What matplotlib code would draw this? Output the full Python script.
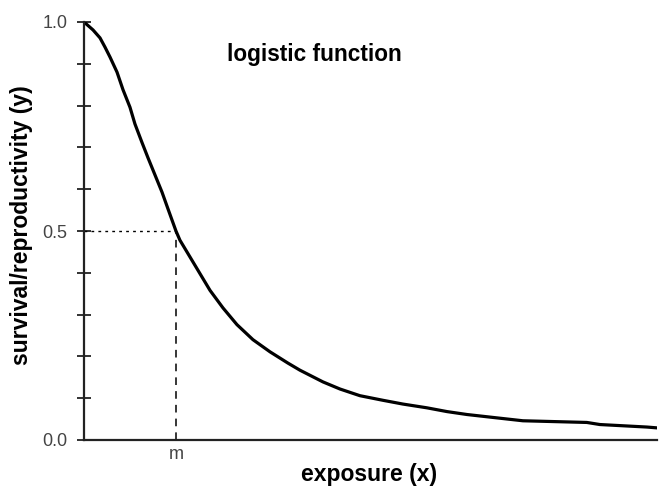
import matplotlib.pyplot as plt

plt.rcParams['font.family'] = ['Liberation Sans', 'DejaVu Sans']

# curve points (exposure in units of m)
exposure = [0.0, 0.098, 0.174, 0.228, 0.283, 0.359, 0.424, 0.500, 0.554, 0.630,
            0.696, 0.772, 0.848, 0.913, 1.0, 1.043, 1.152, 1.261, 1.370, 1.511,
            1.663, 1.837, 2.022, 2.217, 2.348, 2.598, 2.783, 3.0, 3.25, 3.467,
            3.728, 3.946, 4.163, 4.446, 4.772, 5.467, 5.609, 6.12, 6.23]
survival = [1.0, 0.981, 0.962, 0.940, 0.916, 0.880, 0.838, 0.796, 0.756, 0.712,
            0.675, 0.634, 0.593, 0.553, 0.5, 0.478, 0.438, 0.398, 0.358, 0.316,
            0.276, 0.240, 0.211, 0.184, 0.167, 0.139, 0.122, 0.106, 0.095, 0.086,
            0.077, 0.068, 0.061, 0.054, 0.046, 0.042, 0.037, 0.031, 0.029]
m = 1.0
y_at_m = 0.5

W, H = 660, 487
fig = plt.figure(figsize=(W / 100, H / 100), dpi=100)
ax = fig.add_axes([84 / W, 1 - 440 / H, (657 - 84) / W, (440 - 22) / H])

ax.plot(exposure, survival, color='black', lw=2.3, solid_capstyle='round',
        solid_joinstyle='round')
ax.plot([0, m], [y_at_m, y_at_m], color='black', lw=1, linestyle=(0, (2, 3)))
ax.plot([m, m], [0, y_at_m], color='black', lw=1.1, linestyle=(0, (5, 4)))

ax.set_xlim(0, 6.23)
ax.set_ylim(0, 1.0)
ax.spines['top'].set_visible(False)
ax.spines['right'].set_visible(False)
for s in ('left', 'bottom'):
    ax.spines[s].set_linewidth(1.6)
    ax.spines[s].set_color('#222222')

ax.set_yticks([0.0, 0.5, 1.0])
ax.set_yticklabels(['0.0', '0.5', '1.0'], fontsize=13, color='#444444')
ax.set_yticks([0.1, 0.2, 0.3, 0.4, 0.6, 0.7, 0.8, 0.9], minor=True)
ax.tick_params(axis='y', which='both', direction='inout', length=10, width=1.3,
               color='#222222', pad=7)
ax.set_xticks([m])
ax.set_xticklabels(['m'], fontsize=13, color='#444444')
ax.tick_params(axis='x', length=0, pad=4)

fig.text(369 / W, 1 - 475 / H, 'exposure (x)', fontsize=16.5, fontweight='bold',
         ha='center', va='center')
fig.text(22 / W, 1 - 225 / H, 'survival/reproductivity (y)', fontsize=16.5,
         fontweight='bold', rotation=90, ha='center', va='center')
fig.text(227 / W, 1 - 55 / H, 'logistic function', fontsize=16.3, fontweight='bold',
         ha='left', va='center')

fig.savefig('out.png', dpi=100)
